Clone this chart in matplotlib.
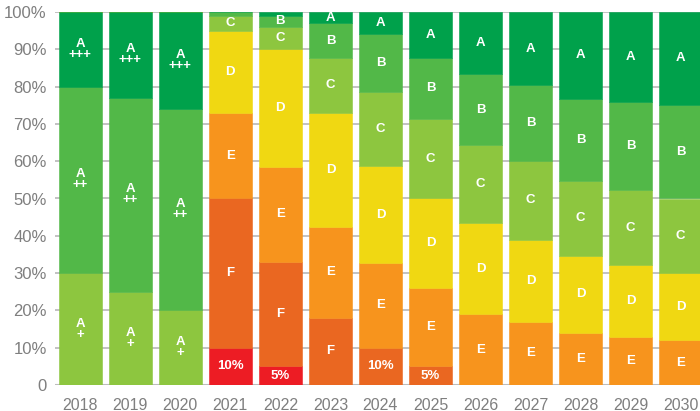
import matplotlib
matplotlib.use("Agg")
import matplotlib.pyplot as plt
import numpy as np

plt.rcParams['font.family'] = ['Liberation Sans', 'DejaVu Sans']

years = ["2018", "2019", "2020", "2021", "2022", "2023", "2024",
         "2025", "2026", "2027", "2028", "2029", "2030"]

# Old label scale (2018-2020)
a_plus   = [30, 25, 20, 0, 0, 0, 0, 0, 0, 0, 0, 0, 0]
a_plus2  = [50, 52, 54, 0, 0, 0, 0, 0, 0, 0, 0, 0, 0]
a_plus3  = [20, 23, 26, 0, 0, 0, 0, 0, 0, 0, 0, 0, 0]
# New label scale (2021-2030)
cls_g = [0, 0, 0, 10, 5, 0, 0, 0, 0, 0, 0, 0, 0]
cls_f = [0, 0, 0, 40, 28, 18, 10, 5, 0, 0, 0, 0, 0]
cls_e = [0, 0, 0, 23, 25.5, 24.4, 22.7, 21, 19, 17, 14, 13, 12]
cls_d = [0, 0, 0, 22, 31.5, 30.5, 26, 24, 24.4, 22, 20.6, 19.1, 18]
cls_c = [0, 0, 0, 4, 6, 14.8, 19.9, 21.2, 20.9, 21, 20.1, 20.1, 20]
cls_b = [0, 0, 0, 1, 3, 9.3, 15.5, 16.6, 19.1, 20.4, 22, 23.8, 25.2]
cls_a = [0, 0, 0, 0, 1, 3, 5.9, 12.2, 16.6, 19.6, 23.3, 23.9, 24.8]

series = [
    (a_plus,  "#8DC63F", "A\n+"),
    (a_plus2, "#52B848", "A\n++"),
    (a_plus3, "#00A14B", "A\n+++"),
    (cls_g,   "#ED1C24", "G"),
    (cls_f,   "#EA6721", "F"),
    (cls_e,   "#F7941D", "E"),
    (cls_d,   "#F0D812", "D"),
    (cls_c,   "#8DC63F", "C"),
    (cls_b,   "#52B848", "B"),
    (cls_a,   "#00A14B", "A"),
]

fig = plt.figure(figsize=(7.0, 4.11), dpi=100)
ax = fig.add_axes([55/700, 26/411, 645/700, 373/411])

x = np.arange(len(years))
bottom = np.zeros(len(years))
for vals, color, lab in series:
    v = np.array(vals, dtype=float)
    ax.bar(x, v, bottom=bottom, width=0.86, color=color, zorder=3,
           edgecolor=color, linewidth=0.4)
    for i in range(len(years)):
        if v[i] >= 2.5:
            # the lowest (worst) class of a bar shows its share when small
            if bottom[i] == 0 and v[i] <= 10 and lab in ("G", "F"):
                text = f"{v[i]:.0f}%"
            else:
                text = lab
            ax.text(x[i], bottom[i] + v[i] / 2, text, ha="center", va="center",
                    color="white", fontsize=9.5, fontweight="semibold", zorder=4,
                    linespacing=0.9)
    bottom += v

ax.set_xlim(-0.506, 12.39)
ax.set_ylim(0, 100)
ax.set_yticks(np.arange(0, 101, 10))
ax.set_yticklabels(["0"] + [f"{t}%" for t in range(10, 101, 10)])
ax.set_xticks(x)
ax.set_xticklabels(years)
ax.yaxis.grid(True, color="#bdbdbd", linewidth=1.3, zorder=0)
ax.set_axisbelow(True)
for s in ax.spines.values():
    s.set_visible(False)
ax.axhline(0, color="#bdbdbd", linewidth=1.5, zorder=2)
ax.tick_params(axis="both", length=0, labelsize=11.5, colors="#7f7f7f")
ax.tick_params(axis="y", labelsize=12, pad=6)
ax.tick_params(axis="x", pad=9)

fig.savefig("out.png", dpi=100)
